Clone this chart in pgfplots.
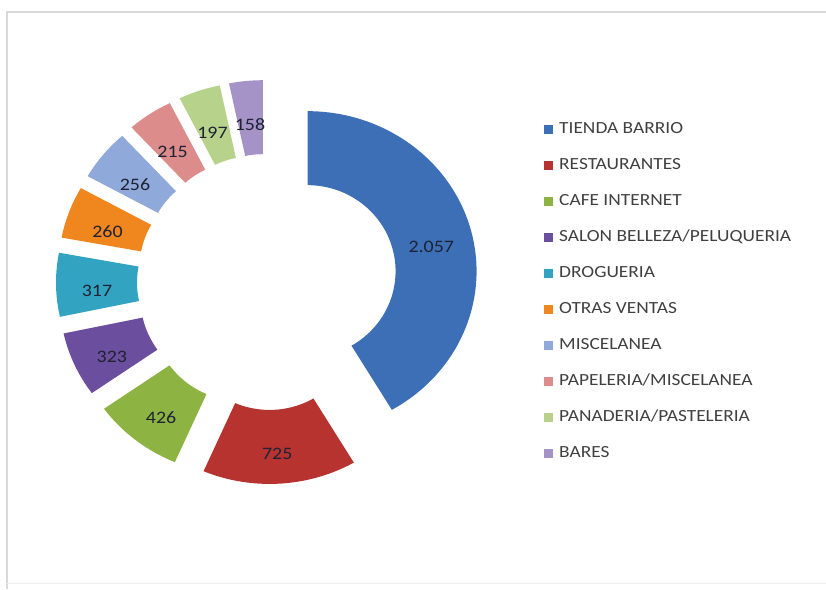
\documentclass[border=0pt]{standalone}
\usepackage{pgfplots}
\pgfplotsset{compat=1.18}
\usepackage{fontspec}
\setmainfont{Carlito}[FakeStretch=1.14]
\definecolor{cTienda}{HTML}{3D6FB6}
\definecolor{cRest}{HTML}{B73330}
\definecolor{cCafe}{HTML}{8DB443}
\definecolor{cSalon}{HTML}{6B4E9E}
\definecolor{cDrog}{HTML}{32A4C2}
\definecolor{cOtras}{HTML}{F0861E}
\definecolor{cMisc}{HTML}{8EA9DA}
\definecolor{cPap}{HTML}{DC8C8B}
\definecolor{cPan}{HTML}{B7D28B}
\definecolor{cBares}{HTML}{A592C6}
\definecolor{labelc}{HTML}{1E2233}
\definecolor{legc}{HTML}{404040}
% geometry (picture units = px of the reference)
\def\TOT{4934}
\def\CX{267}\def\CY{282}\def\EX{42}
\def\RX{169}\def\RY{160}\def\rX{88}\def\rY{86}
\def\LRx{128}\def\LRy{123}
\newcommand{\slice}[3]{% value, cumulative before, colour
\addplot[fill=#3, draw=none, domain=0:3, samples=241, variable=\t]
 ({\CX + \EX*cos(90-(#2+0.5*#1)/\TOT*360) + (\rX + (\RX-\rX)*fr(\t))*cos(an(\t,90-(#2)/\TOT*360,90-(#2+#1)/\TOT*360))},
  {\CY - \EX*sin(90-(#2+0.5*#1)/\TOT*360) - (\rY + (\RY-\rY)*fr(\t))*sin(an(\t,90-(#2)/\TOT*360,90-(#2+#1)/\TOT*360))});
}
\newcommand{\slabel}[3]{% value, cumulative before, text
\node[font=\fontsize{17.5}{17.5}\selectfont, text=labelc, inner sep=0pt] at (axis cs:{\CX + (\EX+\LRx)*cos(90-(#2+0.5*#1)/\TOT*360)},{\CY + 7 - (\EX+\LRy)*sin(90-(#2+0.5*#1)/\TOT*360)}) {#3};
}
\begin{document}
\begin{tikzpicture}
\useasboundingbox (0,0) rectangle (826pt,589pt);
\begin{axis}[
  at={(0,0)}, anchor=south west,
  x=1pt, y=1pt, xmin=0, xmax=826, ymin=0, ymax=589,
  y dir=reverse, hide axis, clip=false,
  declare function={fr(\t)=min(1,max(0,2-\t)); an(\t,\a,\b)=\a+(\b-\a)*min(\t,1)-(\b-\a)*max(\t-2,0);},
  legend image code/.code={\path[#1] (0pt,-4.5pt) rectangle (9pt,4.5pt);},
  legend cell align=left,
  legend style={at={(axis cs:541,119)}, anchor=north west, draw=none, fill=none,
    font=\fontsize{17}{17}\selectfont, text=legc, row sep=20pt,
    nodes={inner sep=1pt, text height=11pt, text depth=3pt},
    /tikz/every odd column/.append style={column sep=5pt}},
]
\draw[gray!30, line width=1.3pt] (axis cs:826,12) -- (axis cs:7,12) -- (axis cs:7,589);
\draw[gray!12, line width=1pt] (axis cs:7,583) -- (axis cs:826,583);
\slice{2057}{0}{cTienda}
\addlegendentry{TIENDA BARRIO}
\slice{725}{2057}{cRest}
\addlegendentry{RESTAURANTES}
\slice{426}{2782}{cCafe}
\addlegendentry{CAFE INTERNET}
\slice{323}{3208}{cSalon}
\addlegendentry{SALON BELLEZA/PELUQUERIA}
\slice{317}{3531}{cDrog}
\addlegendentry{DROGUERIA}
\slice{260}{3848}{cOtras}
\addlegendentry{OTRAS VENTAS}
\slice{256}{4108}{cMisc}
\addlegendentry{MISCELANEA}
\slice{215}{4364}{cPap}
\addlegendentry{PAPELERIA/MISCELANEA}
\slice{197}{4579}{cPan}
\addlegendentry{PANADERIA/PASTELERIA}
\slice{158}{4776}{cBares}
\addlegendentry{BARES}
\slabel{2057}{0}{2.057}
\slabel{725}{2057}{725}
\slabel{426}{2782}{426}
\slabel{323}{3208}{323}
\slabel{317}{3531}{317}
\slabel{260}{3848}{260}
\slabel{256}{4108}{256}
\slabel{215}{4364}{215}
\slabel{197}{4579}{197}
\slabel{158}{4776}{158}
\end{axis}
\end{tikzpicture}
\end{document}
